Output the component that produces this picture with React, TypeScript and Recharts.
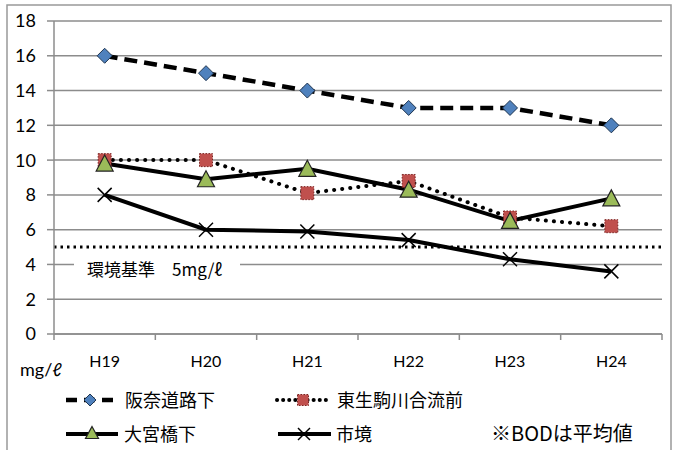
import React from "react";
import { LineChart, Line, XAxis, YAxis, CartesianGrid, ReferenceLine } from "recharts";

const categories = ["H19", "H20", "H21", "H22", "H23", "H24"];
const hannaDoro = [16, 15, 14, 13, 13, 12];
const higashiIkoma = [10, 10, 8.1, 8.8, 6.7, 6.2];
const omiyabashi = [9.8, 8.9, 9.5, 8.3, 6.5, 7.8];
const shikyo = [8.0, 6.0, 5.9, 5.4, 4.3, 3.6];
const yTicks = [0, 2, 4, 6, 8, 10, 12, 14, 16, 18];
const standardValue = 5;

const data = categories.map((c, i) => ({
  x: i + 0.5,
  label: c,
  hanna: hannaDoro[i],
  higashi: higashiIkoma[i],
  omiya: omiyabashi[i],
  shikyo: shikyo[i],
}));
const xTicks: number[] = [];
for (let i = 0; i <= categories.length; i++) {
  xTicks.push(i);
  if (i < categories.length) xTicks.push(i + 0.5);
}

const FONT = "Lato, 'Noto Sans CJK JP', sans-serif";
const JFONT = "'Noto Sans CJK JP', sans-serif";
const GRID = "#8c8c8c";

const Diamond = (p: any) => {
  const { cx, cy } = p;
  if (cx == null || cy == null) return null;
  const r = p.mk ?? 7.5;
  return <path d={`M${cx},${cy - r}L${cx + r},${cy}L${cx},${cy + r}L${cx - r},${cy}Z`} fill="#4F81BD" stroke="#1f3550" strokeWidth={1} />;
};
const Square = (p: any) => {
  const { cx, cy } = p;
  if (cx == null || cy == null) return null;
  const s = p.mk ?? 6.5;
  return <rect x={cx - s} y={cy - s} width={2 * s} height={2 * s} fill="#C0504D" stroke="#7a2220" strokeWidth={1} strokeDasharray="1.5 1.5" />;
};
const Triangle = (p: any) => {
  const { cx, cy } = p;
  if (cx == null || cy == null) return null;
  const w = p.mk ?? 8.5;
  const h = w;
  return <path d={`M${cx},${cy - h}L${cx + w},${cy + h - 1}L${cx - w},${cy + h - 1}Z`} fill="#9BBB59" stroke="#222" strokeWidth={1.2} />;
};
const Cross = (p: any) => {
  const { cx, cy } = p;
  if (cx == null || cy == null) return null;
  const r = p.mk ?? 7;
  return (
    <g stroke="#000" strokeWidth={1.5}>
      <line x1={cx - r} y1={cy - r} x2={cx + r} y2={cy + r} />
      <line x1={cx - r} y1={cy + r} x2={cx + r} y2={cy - r} />
    </g>
  );
};

const XTick = (p: any) => {
  const { x, y, payload } = p;
  const v = payload.value;
  if (Number.isInteger(v)) {
    return <line x1={x} y1={y} x2={x} y2={y + 6} stroke={GRID} strokeWidth={1.5} />;
  }
  return (
    <text x={x} y={y + 33} textAnchor="middle" fontSize={16} fontFamily={FONT} fill="#000">
      {categories[Math.floor(v)]}
    </text>
  );
};

const StdLabel = (p: any) => {
  const vb = p.viewBox || {};
  const y0 = (vb.y ?? 0) + 23;
  const x0 = (vb.x ?? 0) + 20;
  return (
    <g>
      <rect x={x0} y={y0 - 12} width={166} height={24} fill="#fff" />
      <text x={x0 + 13} y={y0 + 6} fontSize={17} fontFamily={JFONT} fill="#000">
        環境基準　5mg/ℓ
      </text>
    </g>
  );
};

export default function App() {
  return (
    <div style={{ position: "absolute", left: 0, top: 0, width: 676, height: 450, background: "#fff" }}>
      <svg width={676} height={450} style={{ position: "absolute", left: 0, top: 0 }}>
        <rect x={7} y={5} width={664} height={450} fill="#fff" stroke="#999" strokeWidth={1.5} />
      </svg>
      <div style={{ position: "absolute", left: 0, top: 0 }}>
        <LineChart width={676} height={450} data={data} margin={{ top: 21, right: 14, bottom: 66, left: 0 }}>
          <CartesianGrid vertical={false} stroke={GRID} strokeWidth={1.5} />
          <XAxis
            dataKey="x"
            type="number"
            domain={[0, categories.length]}
            ticks={xTicks}
            interval={0}
            height={50}
            tickSize={0}
            tickMargin={0}
            tick={<XTick />}
            axisLine={{ stroke: GRID, strokeWidth: 1.5 }}
            tickLine={false}
          />
          <YAxis
            domain={[0, 18]}
            ticks={yTicks}
            interval={0}
            width={54}
            tickSize={7}
            tickMargin={11}
            axisLine={{ stroke: GRID, strokeWidth: 1.5 }}
            tickLine={{ stroke: GRID, strokeWidth: 1.5 }}
            tick={{ fontSize: 18, fontFamily: FONT, fill: "#000" }}
          />
          <ReferenceLine
            y={standardValue}
            stroke="#000"
            strokeWidth={3}
            strokeDasharray="2.5 4"
            label={<StdLabel />}
            ifOverflow="extendDomain"
          />
          <Line dataKey="shikyo" stroke="#000" strokeWidth={4} dot={<Cross />} isAnimationActive={false} />
          <Line dataKey="higashi" stroke="#000" strokeWidth={4} strokeDasharray="0.1 8" strokeLinecap="round" dot={<Square />} isAnimationActive={false} />
          <Line dataKey="omiya" stroke="#000" strokeWidth={4} dot={<Triangle />} isAnimationActive={false} />
          <Line dataKey="hanna" stroke="#000" strokeWidth={4.5} strokeDasharray="13 7" dot={<Diamond />} isAnimationActive={false} />
        </LineChart>
      </div>
      <svg width={676} height={450} style={{ position: "absolute", left: 0, top: 0, pointerEvents: "none" }}>
        <text x={20} y={376} fontSize={18} fontFamily={FONT} fill="#000">mg/ℓ</text>
        <line x1={66} y1={400} x2={114} y2={400} stroke="#000" strokeWidth={4.5} strokeDasharray="11 7" />
        <Diamond cx={90} cy={400} mk={6} />
        <text x={125} y={407} fontSize={18} fontFamily={JFONT} fill="#000">阪奈道路下</text>
        <line x1={277} y1={400} x2={329} y2={400} stroke="#000" strokeWidth={4} strokeDasharray="0.1 6" strokeLinecap="round" />
        <Square cx={303} cy={400} mk={5.5} />
        <text x={337} y={407} fontSize={18} fontFamily={JFONT} fill="#000">東生駒川合流前</text>
        <line x1={66} y1={434} x2={118} y2={434} stroke="#000" strokeWidth={4} />
        <Triangle cx={92} cy={433} mk={6.5} />
        <text x={124} y={441} fontSize={18} fontFamily={JFONT} fill="#000">大宮橋下</text>
        <line x1={278} y1={434} x2={331} y2={434} stroke="#000" strokeWidth={4} />
        <Cross cx={304} cy={434} mk={6} />
        <text x={336} y={441} fontSize={18} fontFamily={JFONT} fill="#000">市境</text>
        <text x={491} y={441} fontSize={20} fontFamily={JFONT} fill="#000">※BODは平均値</text>
      </svg>
    </div>
  );
}
